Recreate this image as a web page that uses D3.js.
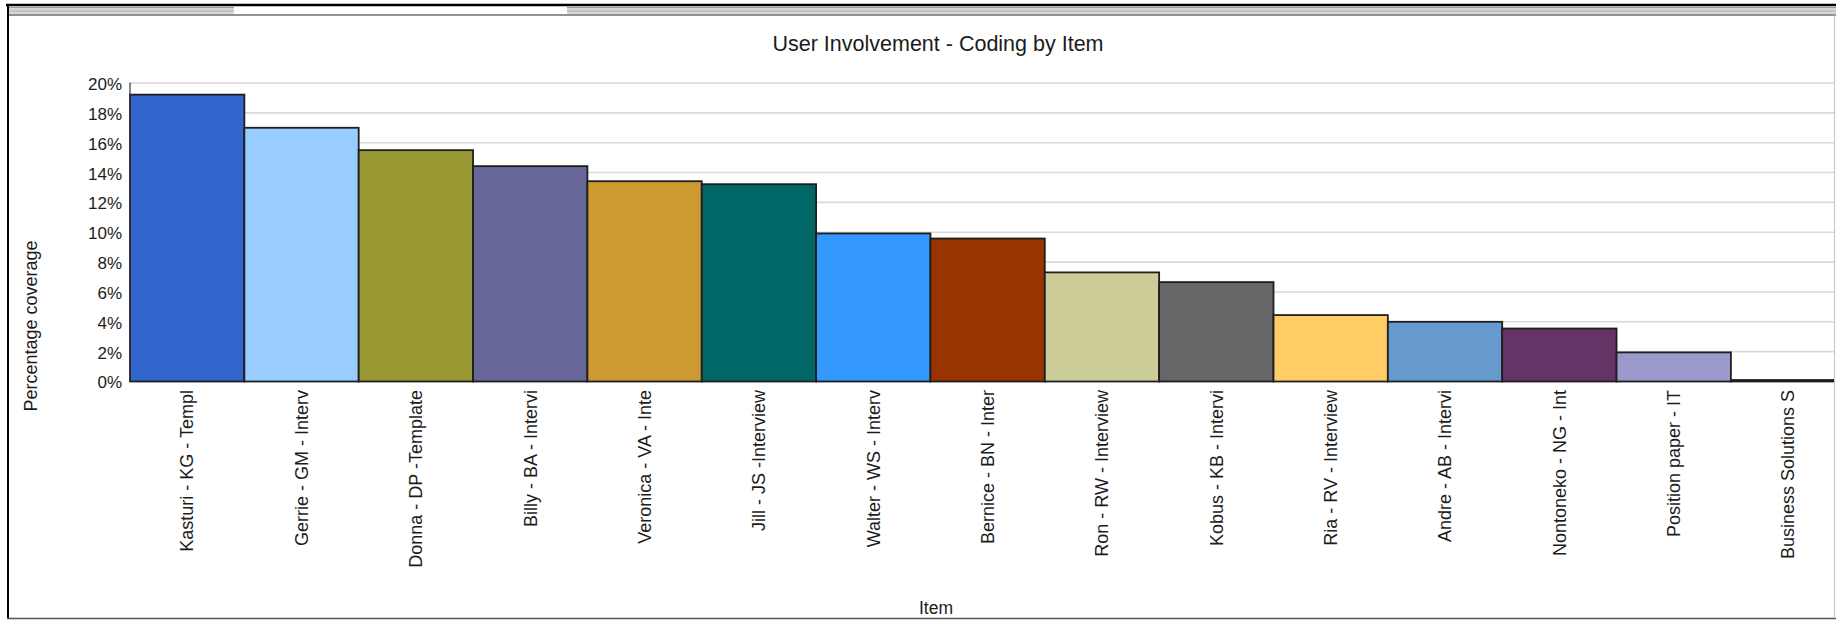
<!DOCTYPE html>
<html>
<head>
<meta charset="utf-8">
<script src="https://cdn.jsdelivr.net/npm/d3@7"></script>
<style>
  html, body { margin: 0; padding: 0; background: #fff; }
  svg { display: block; }
  text { font-family: "Liberation Sans", Arial, sans-serif; fill: #1c1c1c; }
</style>
</head>
<body>
<svg id="chart" width="1836" height="620"></svg>
<script>
// Items coded, in descending order of coverage
const items = [
  "Kasturi - KG - Templ",
  "Gerrie - GM - Interv",
  "Donna - DP -Template",
  "Billy - BA - Intervi",
  "Veronica - VA - Inte",
  "Jill - JS -Interview",
  "Walter - WS - Interv",
  "Bernice - BN - Inter",
  "Ron - RW - Interview",
  "Kobus - KB - Intervi",
  "Ria - RV - Interview",
  "Andre - AB - Intervi",
  "Nontoneko - NG - Int",
  "Position paper - IT",
  "Business Solutions S"
];

// Percentage coverage per item (fraction of 1)
const coverage = [
  0.1922, 0.1700, 0.1550, 0.1443, 0.1342, 0.1322, 0.0992, 0.0958,
  0.0731, 0.0666, 0.0445, 0.0400, 0.0355, 0.0195, 0.0010
];

const barColors = [
  "#3366CC", "#99CCFF", "#999933", "#666699", "#CC9933", "#006666",
  "#3399FF", "#993300", "#CCCC99", "#666666", "#FFCC66", "#6699CC",
  "#663366", "#9999CC", "#CCCCCC"
];

const yTicks = [0, 0.02, 0.04, 0.06, 0.08, 0.10, 0.12, 0.14, 0.16, 0.18, 0.20];

const chartTitle = "User Involvement - Coding by Item";
const yTitle = "Percentage coverage";
const xTitle = "Item";

const svg = d3.select("#chart");
const W = 1836, H = 620;

// ---- window frame ----
const frame = svg.append("g");
frame.append("rect").attr("x", 0).attr("y", 0).attr("width", W).attr("height", H).attr("fill", "#fff");
// tab strip along the top
[[7, 234], [567, W]].forEach(([a, b]) => {
  frame.append("rect").attr("x", a).attr("y", 7).attr("width", b - a).attr("height", 7)
    .attr("fill", "#d6d6d6");
  frame.append("line").attr("x1", a).attr("x2", b).attr("y1", 7.5).attr("y2", 7.5)
    .attr("stroke", "#9a9a9a").attr("stroke-width", 1);
  frame.append("line").attr("x1", a).attr("x2", b).attr("y1", 11).attr("y2", 11)
    .attr("stroke", "#b4b4b4").attr("stroke-width", 1);
});
frame.append("line").attr("x1", 6).attr("x2", W).attr("y1", 5).attr("y2", 5)
  .attr("stroke", "#000").attr("stroke-width", 2.5);
frame.append("line").attr("x1", 7).attr("x2", W).attr("y1", 15).attr("y2", 15)
  .attr("stroke", "#6e6e6e").attr("stroke-width", 1.5);
frame.append("line").attr("x1", 8).attr("x2", 8).attr("y1", 4).attr("y2", 619)
  .attr("stroke", "#000").attr("stroke-width", 2);
frame.append("line").attr("x1", 7).attr("x2", W).attr("y1", 618.5).attr("y2", 618.5)
  .attr("stroke", "#555").attr("stroke-width", 1.5);
frame.append("line").attr("x1", 1834.5).attr("x2", 1834.5).attr("y1", 15).attr("y2", 618)
  .attr("stroke", "#c4c4c4").attr("stroke-width", 1);

// ---- scales ----
const plotLeft = 130, step = 114.35;
const plotTop = 83, plotBottom = 381.5;
const clipRight = 1834;

const x = d3.scaleBand()
  .domain(items)
  .range([plotLeft, plotLeft + step * items.length])
  .padding(0);

const y = d3.scaleLinear()
  .domain([0, 0.20])
  .range([plotBottom, plotTop]);

svg.append("defs").append("clipPath").attr("id", "plotClip")
  .append("rect").attr("x", 0).attr("y", 0).attr("width", clipRight).attr("height", H);

const plot = svg.append("g").attr("clip-path", "url(#plotClip)");

// gridlines
plot.append("g")
  .selectAll("line")
  .data(yTicks.filter(d => d > 0))
  .join("line")
  .attr("x1", plotLeft).attr("x2", clipRight)
  .attr("y1", d => y(d)).attr("y2", d => y(d))
  .attr("stroke", "#d9d9d9").attr("stroke-width", 1.6);

// bars
plot.append("g")
  .selectAll("rect")
  .data(items)
  .join("rect")
  .attr("x", d => x(d))
  .attr("y", (d, i) => y(coverage[i]))
  .attr("width", x.bandwidth())
  .attr("height", (d, i) => y(0) - y(coverage[i]))
  .attr("fill", (d, i) => barColors[i])
  .attr("stroke", "#1e1e1e")
  .attr("stroke-width", 1.8);

// y axis line
svg.append("line")
  .attr("x1", plotLeft).attr("x2", plotLeft)
  .attr("y1", plotTop - 0.5).attr("y2", plotBottom)
  .attr("stroke", "#333").attr("stroke-width", 1.2);

// y axis tick labels
const yAxis = d3.axisLeft(y)
  .tickValues(yTicks)
  .tickFormat(d3.format(".0%"))
  .tickSize(0)
  .tickPadding(8);

const yg = svg.append("g").attr("transform", `translate(${plotLeft},0)`).call(yAxis);
yg.select(".domain").remove();
yg.selectAll("text")
  .attr("font-size", 17)
  .attr("font-family", "Liberation Sans, Arial, sans-serif")
  .attr("fill", "#1c1c1c")
  .attr("dy", "0.38em");

// x category labels, rotated
svg.append("g")
  .selectAll("text")
  .data(items)
  .join("text")
  .attr("transform", d => `translate(${x(d) + x.bandwidth() / 2},390) rotate(-90)`)
  .attr("text-anchor", "end")
  .attr("dy", "0.35em")
  .attr("font-size", 18)
  .text(d => d);

// titles
svg.append("text")
  .attr("x", 938).attr("y", 51)
  .attr("text-anchor", "middle")
  .attr("font-size", 21.5)
  .text(chartTitle);

svg.append("text")
  .attr("transform", "translate(31,326) rotate(-90)")
  .attr("text-anchor", "middle")
  .attr("dy", "0.35em")
  .attr("font-size", 18)
  .text(yTitle);

svg.append("text")
  .attr("x", 936).attr("y", 614)
  .attr("text-anchor", "middle")
  .attr("font-size", 17.5)
  .text(xTitle);
</script>
</body>
</html>
